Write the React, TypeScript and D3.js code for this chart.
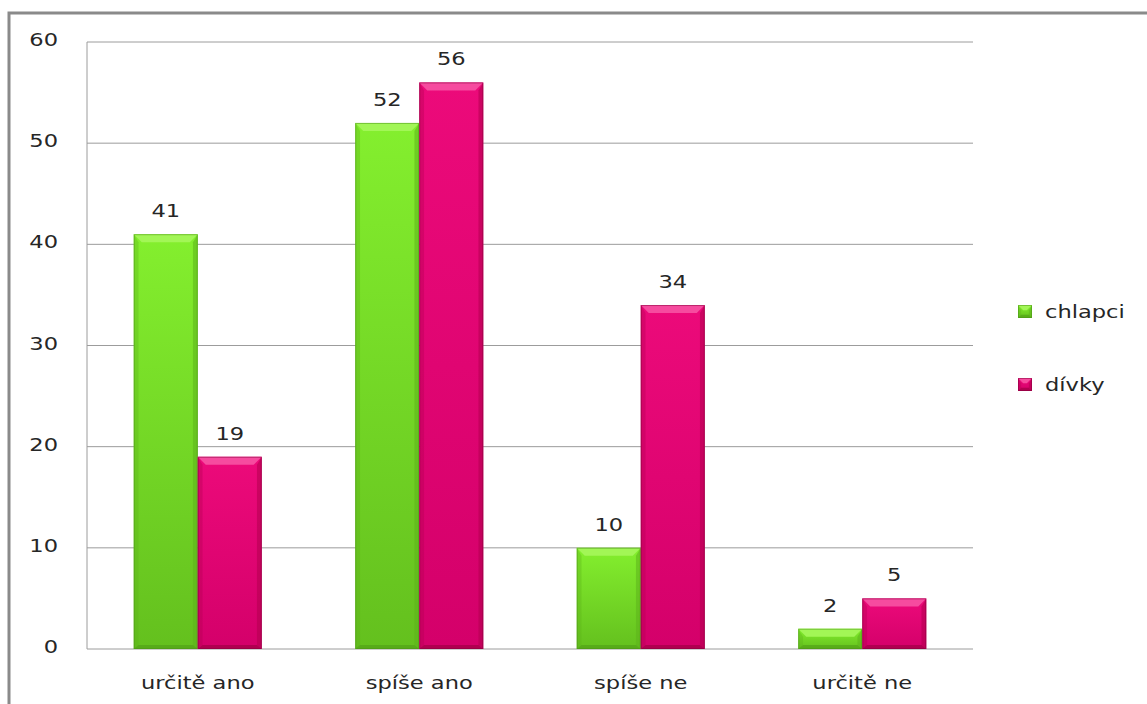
import React from "react";
import * as d3 from "d3";

const categories = ["určitě ano", "spíše ano", "spíše ne", "určitě ne"];
const seriesNames = ["chlapci", "dívky"];
const chlapci = [41, 52, 10, 2];
const divky = [19, 56, 34, 5];
const yTicks = [0, 10, 20, 30, 40, 50, 60];

const W = 1147;
const H = 704;
const left = 87;
const right = 973;
const top = 42;
const bottom = 649;

const palettes = [
  { id: "g", faceTop: "#84ef2e", faceBot: "#64c01e", top: "#a2f656", side: "#5cb31b", bottom: "#4f9c16", stroke: "#4a9215" },
  { id: "p", faceTop: "#ec0a7a", faceBot: "#d4006a", top: "#f64b9f", side: "#b3004f", bottom: "#98003f", stroke: "#84003a" },
];

const FONT = "'DejaVu Sans', Verdana, sans-serif";
const SX = 1.22;

function T({ x, y, anchor = "middle", size = 18.5, children }: any) {
  return (
    <text
      transform={`translate(${x},${y}) scale(${SX},1)`}
      textAnchor={anchor}
      fontFamily={FONT}
      fontSize={size}
      fill="#262626"
    >
      {children}
    </text>
  );
}

function Bar({ x, y, w, h, p }: any) {
  const b = Math.min(8, h / 2.5);
  const bb = Math.min(4, h / 4);
  return (
    <g>
      <rect x={x} y={y} width={w} height={h} fill={`url(#face-${p.id})`} />
      <polygon points={`${x},${y} ${x + b * 0.6},${y + b} ${x + b * 0.6},${y + h - bb} ${x},${y + h}`} fill={p.side} opacity={0.35} />
      <polygon points={`${x + w},${y} ${x + w - b * 0.6},${y + b} ${x + w - b * 0.6},${y + h - bb} ${x + w},${y + h}`} fill={p.side} opacity={0.55} />
      <polygon points={`${x},${y + h} ${x + b * 0.6},${y + h - bb} ${x + w - b * 0.6},${y + h - bb} ${x + w},${y + h}`} fill={p.bottom} opacity={0.6} />
      <polygon points={`${x},${y} ${x + w},${y} ${x + w - b},${y + b} ${x + b},${y + b}`} fill={p.top} />
      <rect x={x + 0.5} y={y + 0.5} width={w - 1} height={h - 1} fill="none" stroke={p.stroke} strokeWidth={1} opacity={0.5} />
    </g>
  );
}

export default function App() {
  const x0 = d3.scaleBand<string>().domain(categories).range([left, right]).paddingInner(0.422).paddingOuter(0.211);
  const x1 = d3.scaleBand<string>().domain(seriesNames).range([0, x0.bandwidth()]).padding(0);
  const y = d3.scaleLinear().domain([0, 60]).range([bottom, top]);
  const data = [chlapci, divky];

  return (
    <div style={{ position: "absolute", left: 0, top: 0 }}>
      <svg width={W} height={H} style={{ display: "block", background: "#fff" }}>
        <defs>
          {palettes.map((p) => (
            <linearGradient key={p.id} id={`face-${p.id}`} x1="0" y1="0" x2="0" y2="1">
              <stop offset="0" stopColor={p.faceTop} />
              <stop offset="1" stopColor={p.faceBot} />
            </linearGradient>
          ))}
        </defs>
        <path d={`M9,${H} L9,13 L${W},13`} fill="none" stroke="#8a8a8a" strokeWidth={3} />
        {yTicks.map((t) => (
          <g key={t}>
            <line x1={left} x2={right} y1={y(t)} y2={y(t)} stroke="#9c9c9c" strokeWidth={1} />
            <T x={58} y={y(t) + 4} anchor="end">{t}</T>
          </g>
        ))}
        <line x1={left} x2={left} y1={top} y2={bottom} stroke="#9c9c9c" strokeWidth={1} />
        {categories.map((c, i) => (
          <g key={c}>
            {seriesNames.map((s, j) => {
              const v = data[j][i];
              const bx = (x0(c) as number) + (x1(s) as number);
              const bw = x1.bandwidth();
              return (
                <g key={s}>
                  <Bar x={bx} y={y(v)} w={bw} h={bottom - y(v)} p={palettes[j]} />
                  <T x={bx + bw / 2} y={y(v) - 17}>{v}</T>
                </g>
              );
            })}
            <T x={(x0(c) as number) + x0.bandwidth() / 2} y={689}>{c}</T>
          </g>
        ))}
        {seriesNames.map((s, j) => {
          const cy = 312 + j * 73;
          return (
            <g key={s}>
              <Bar x={1018} y={cy - 7} w={14} h={13} p={palettes[j]} />
              <T x={1045} y={cy + 6} anchor="start">{s}</T>
            </g>
          );
        })}
      </svg>
    </div>
  );
}
